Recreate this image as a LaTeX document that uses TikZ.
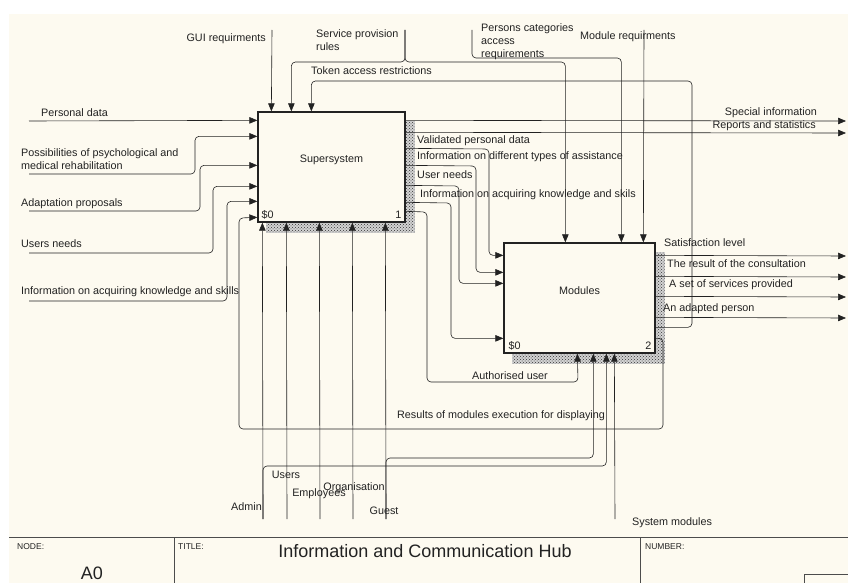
\documentclass[tikz,border=0pt]{standalone}
\usepackage{fontspec}
\setmainfont{Liberation Sans}
\usetikzlibrary{arrows.meta,calc,patterns,backgrounds}
\definecolor{paper}{HTML}{FDFAF0}
\definecolor{ink}{HTML}{222222}
\tikzset{
	box/.style={draw=ink,line width=1.3pt,fill=paper,minimum width=#1,minimum height=110pt,inner sep=0pt},
	hatch/.style={fill=gray!35,postaction={pattern=crosshatch dots,pattern color=gray!40!black}},
	lbl/.style={inner sep=0pt,text=ink,font=\fontsize{10.8}{12.8}\selectfont,align=left},
	small/.style={inner sep=0pt,text=ink,font=\fontsize{8.5}{10}\selectfont},
	big/.style={inner sep=0pt,text=ink,font=\fontsize{18}{20}\selectfont},
	wire/.style={draw=ink,line width=0.6pt,rounded corners=4pt},
	arr/.style={wire,-{Triangle[length=8pt,width=6.5pt]}}
}

\begin{document}
\begin{tikzpicture}[x=1pt,y=-1pt]
	\useasboundingbox (0,0) rectangle (848,583);

	\node[box=147pt] (sup) at (331.5,167) {};
	\node[box=151pt] (mod) at (579.5,298) {};

	\begin{scope}[on background layer]
		\fill[white] (0,0) rectangle (848,583);
		\fill[paper] (9,14) rectangle (848,583);
	\end{scope}
	\begin{scope}[on background layer]
		\fill[hatch] ($(sup.north west)+(9,10)$) rectangle ($(sup.south east)+(9,10)$);
		\fill[hatch] ($(mod.north west)+(9,10)$) rectangle ($(mod.south east)+(9,10)$);
	\end{scope}

	\node[lbl] (supname) at ($(sup.center)+(0,-7)$) {Supersystem};
	\node[lbl,anchor=base west] (supcost) at ($(sup.south west)+(4,-4)$) {\$0};
	\node[lbl,anchor=base east] (supnum) at ($(sup.south east)+(-4,-4)$) {1};
	\node[lbl] (modname) at ($(mod.center)+(0,-7)$) {Modules};
	\node[lbl,anchor=base west] (modcost) at ($(mod.south west)+(5,-4)$) {\$0};
	\node[lbl,anchor=base east] (modnum) at ($(mod.south east)+(-4,-4)$) {2};

	\coordinate (pd) at (29,121);
	\coordinate (psy) at (29,174);
	\coordinate (ap) at (29,211);
	\coordinate (un) at (29,253);
	\coordinate (ik) at (29,301);
	\draw[arr] (pd) -- ($(sup.north west)+(0,9)$);
	\draw[arr] (psy) -- (195,174) |- ($(sup.north west)+(0,25)$);
	\draw[arr] (ap) -- (200,211) |- ($(sup.north west)+(0,54)$);
	\draw[arr] (un) -- (213,253) |- ($(sup.north west)+(0,75)$);
	\draw[arr] (ik) -- (227,301) |- ($(sup.north west)+(0,90)$);
	\node[lbl,anchor=west] (lpd) at (41,113) {Personal data};
	\node[lbl,anchor=west] (lpsy) at (21,159) {Possibilities of psychological and\\medical rehabilitation};
	\node[lbl,anchor=west] (lap) at (21,204) {Adaptation proposals};
	\node[lbl,anchor=west] (lun) at (21,244) {Users needs};
	\node[lbl,anchor=west] (lik) at (21,292) {Information on acquiring knowledge and skills};

	\coordinate (gui) at (272,30);
	\coordinate (spr) at (405,30);
	\coordinate (pca) at (472,30);
	\coordinate (mr) at (644,30);
	\draw[arr] (gui) -- ($(sup.north west)+(14,0)$);
	\draw[arr] (spr) -- (405,62) -| ($(sup.north west)+(34,0)$);
	\draw[arr] (spr) -- (405,62) -| ($(mod.north west)+(62,0)$);
	\draw[arr] (pca) -- (472,58) -| ($(mod.north west)+(118,0)$);
	\draw[arr] (mr) -- ($(mod.north west)+(140,0)$);
	\node[lbl,anchor=east] (lgui) at (266,39) {GUI requirments};
	\node[lbl,anchor=west] (lspr) at (316,40) {Service provision\\rules};
	\node[lbl,anchor=west] (lpca) at (481,42) {Persons categories\\access\\requirements};
	\node[lbl,anchor=west] (lmr) at (580,37) {Module requirments};

	\draw[arr] ($(mod.north east)+(0,85)$) -| (692,81) -| ($(sup.north west)+(54,0)$);
	\node[lbl,anchor=west] (ltar) at (311,71) {Token access restrictions};
	\draw[arr] ($(mod.north east)+(0,96)$) -| (663,429) -| (239,218) -- ($(sup.north west)+(0,106)$);
	\node[lbl] (lres) at (501,416) {Results of modules execution for displaying};

	\coordinate (si) at (846,121);
	\coordinate (rs) at (846,133);
	\draw[arr] ($(sup.north east)+(0,9)$) -- (si);
	\draw[arr] ($(sup.north east)+(0,21)$) -- (rs);
	\node[lbl,anchor=east] (lsi) at (817,113) {Special information};
	\node[lbl,anchor=east] (lrs) at (816,126) {Reports and statistics};

	\draw[arr] ($(sup.north east)+(0,37)$) -- (489,149) |- ($(mod.north west)+(0,13)$);
	\draw[arr] ($(sup.north east)+(0,54)$) -- (476,166) |- ($(mod.north west)+(0,30)$);
	\draw[arr] ($(sup.north east)+(0,74)$) -- (459,186) |- ($(mod.north west)+(0,41)$);
	\draw[arr] ($(sup.north east)+(0,91)$) -- (451,203) |- ($(mod.north west)+(0,96)$);
	\draw[arr] ($(sup.north east)+(0,100)$) -- (427,212) |- (578,382) -- ($(mod.south west)+(74,0)$);
	\node[lbl,anchor=west] (lvpd) at (417,141) {Validated personal data};
	\node[lbl,anchor=west] (lidt) at (417,157) {Information on different types of assistance};
	\node[lbl,anchor=west] (lund) at (417,175) {User needs};
	\node[lbl,anchor=west] (liks) at (420,195) {Information on acquiring knowledge and skils};
	\node[lbl] (lau) at (510,376) {Authorised user};

	\coordinate (sl) at (846,256);
	\coordinate (rc) at (846,277);
	\coordinate (ssp) at (846,297);
	\coordinate (adp) at (846,318);
	\draw[arr] ($(mod.north east)+(0,13)$) -- (sl);
	\draw[arr] ($(mod.north east)+(0,34)$) -- (rc);
	\draw[arr] ($(mod.north east)+(0,54)$) -- (ssp);
	\draw[arr] ($(mod.north east)+(0,75)$) -- (adp);
	\node[lbl,anchor=west] (lsl) at (664,243) {Satisfaction level};
	\node[lbl,anchor=west] (lrc) at (667,264) {The result of the consultation};
	\node[lbl,anchor=west] (lssp) at (669,285) {A set of services provided};
	\node[lbl,anchor=west] (ladp) at (663,309) {An adapted person};

	\coordinate (adm) at (263,519);
	\coordinate (usr) at (287,519);
	\coordinate (emp) at (320,519);
	\coordinate (org) at (353,519);
	\coordinate (gst) at (386,519);
	\coordinate (sm) at (615,519);
	\draw[arr] (adm) -- ($(sup.south west)+(5,0)$);
	\draw[arr] (usr) -- ($(sup.south west)+(29,0)$);
	\draw[arr] (emp) -- ($(sup.south west)+(62,0)$);
	\draw[arr] (org) -- ($(sup.south west)+(95,0)$);
	\draw[arr] (gst) -- ($(sup.south west)+(128,0)$);
	\draw[arr] (adm) -- (263,466) -| ($(mod.south west)+(103,0)$);
	\draw[arr] (gst) -- (386,458) -| ($(mod.south west)+(90,0)$);
	\draw[arr] (sm) -- ($(mod.south west)+(111,0)$);
	\node[lbl,anchor=east] (ladm) at (262,507) {Admin};
	\node[lbl] (lusr) at (286,475) {Users};
	\node[lbl] (lemp) at (319,494) {Employees};
	\node[lbl] (lorg) at (354,488) {Organisation};
	\node[lbl] (lgst) at (384,511) {Guest};
	\node[lbl,anchor=west] (lsm) at (632,523) {System modules};

	\draw[gray!60!black,line width=0.8pt] (9,537) -- (848,537);
	\draw[gray!60!black,line width=0.8pt] (174,537) -- (174,583);
	\draw[gray!60!black,line width=0.8pt] (640,537) -- (640,583);
	\draw[gray!60!black,line width=0.8pt] (848,574) -- (804,574) -- (804,583);
	\node[small,anchor=west] (fnode) at (17,547) {NODE:};
	\node[big] (fa0) at (92,573) {A0};
	\node[small,anchor=west] (ftitle) at (178,547) {TITLE:};
	\node[big] (fname) at (425,551) {Information and Communication Hub};
	\node[small,anchor=west] (fnum) at (645,547) {NUMBER:};
\end{tikzpicture}
\end{document}
